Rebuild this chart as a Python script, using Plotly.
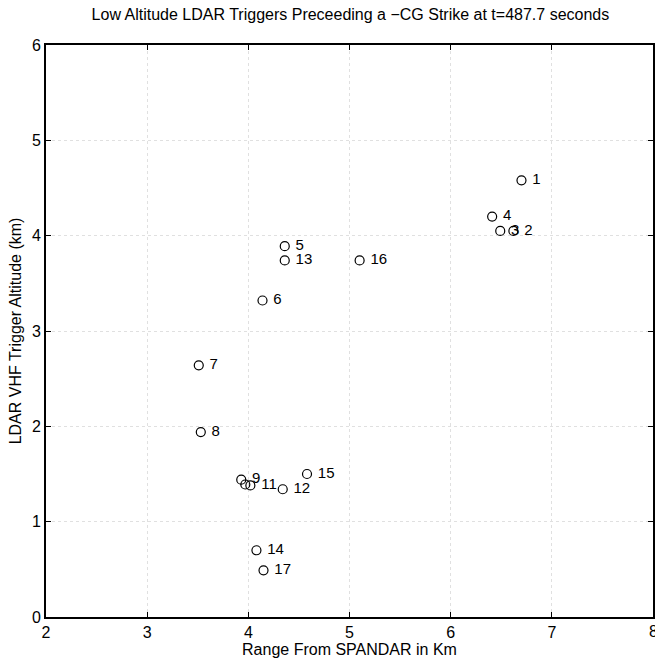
import plotly.graph_objects as go

# LDAR trigger locations (range from SPANDAR, altitude) with their sequence labels
range_km = [6.70, 6.62, 6.49, 6.41, 4.36, 4.14, 3.51, 3.53, 3.93, 3.97,
            4.02, 4.34, 4.36, 4.08, 4.58, 5.10, 4.15]
altitude_km = [4.58, 4.05, 4.05, 4.20, 3.89, 3.32, 2.64, 1.94, 1.44, 1.39,
               1.38, 1.34, 3.74, 0.70, 1.50, 3.74, 0.49]
point_labels = ["1", "2", "3", "4", "5", "6", "7", "8", "9", "",
                "11", "12", "13", "14", "15", "16", "17"]

x_ticks = [2, 3, 4, 5, 6, 7, 8]
y_ticks = [0, 1, 2, 3, 4, 5, 6]

font_family = "Liberation Sans Narrow, Arial Narrow, Liberation Sans, sans-serif"

fig = go.Figure()
fig.add_trace(go.Scatter(
    x=range_km,
    y=altitude_km,
    mode="markers+text",
    text=[" " + t if t else "" for t in point_labels],
    textposition="middle right",
    textfont=dict(family=font_family, size=15, color="black"),
    marker=dict(symbol="circle-open", size=9, color="black",
                line=dict(width=1.2, color="black")),
    cliponaxis=False,
    showlegend=False,
))

axis_common = dict(
    showline=True,
    linecolor="black",
    linewidth=1.6,
    mirror="ticks",
    ticks="inside",
    ticklen=5,
    tickwidth=1,
    tickcolor="black",
    showgrid=True,
    gridcolor="#e0e0e0",
    griddash="dot",
    gridwidth=1,
    zeroline=False,
    tickfont=dict(family=font_family, size=16, color="black"),
    automargin=False,
)

fig.update_xaxes(
    range=[2, 8],
    tickvals=x_ticks,
    ticktext=[str(v) for v in x_ticks],
    title=dict(text="Range From SPANDAR in Km",
               font=dict(family=font_family, size=16, color="black"),
               standoff=2),
    ticklabelstandoff=0,
    **axis_common,
)
fig.update_yaxes(
    range=[0, 6],
    tickvals=y_ticks,
    ticktext=[str(v) for v in y_ticks],
    title=dict(text="LDAR VHF Trigger Altitude (km)",
               font=dict(family=font_family, size=16, color="black"),
               standoff=6),
    ticklabelstandoff=0,
    **axis_common,
)

# the last x tick label sits on the page edge and is only partly visible
fig.add_annotation(
    x=x_ticks[-1], xref="x", y=0, yref="paper",
    text=str(x_ticks[-1]), showarrow=False,
    xanchor="center", yanchor="top", yshift=-4,
    font=dict(family=font_family, size=16, color="black"),
)

fig.update_layout(
    width=655,
    height=667,
    margin=dict(l=46, r=2, t=45, b=50),
    paper_bgcolor="white",
    plot_bgcolor="white",
    title=dict(
        text="Low Altitude LDAR Triggers Preceeding a \u2212CG Strike at t=487.7 seconds",
        font=dict(family=font_family, size=16, color="black"),
        x=0.535, xanchor="center",
        y=0.979, yanchor="middle",
    ),
)

fig.write_html("out.html")
